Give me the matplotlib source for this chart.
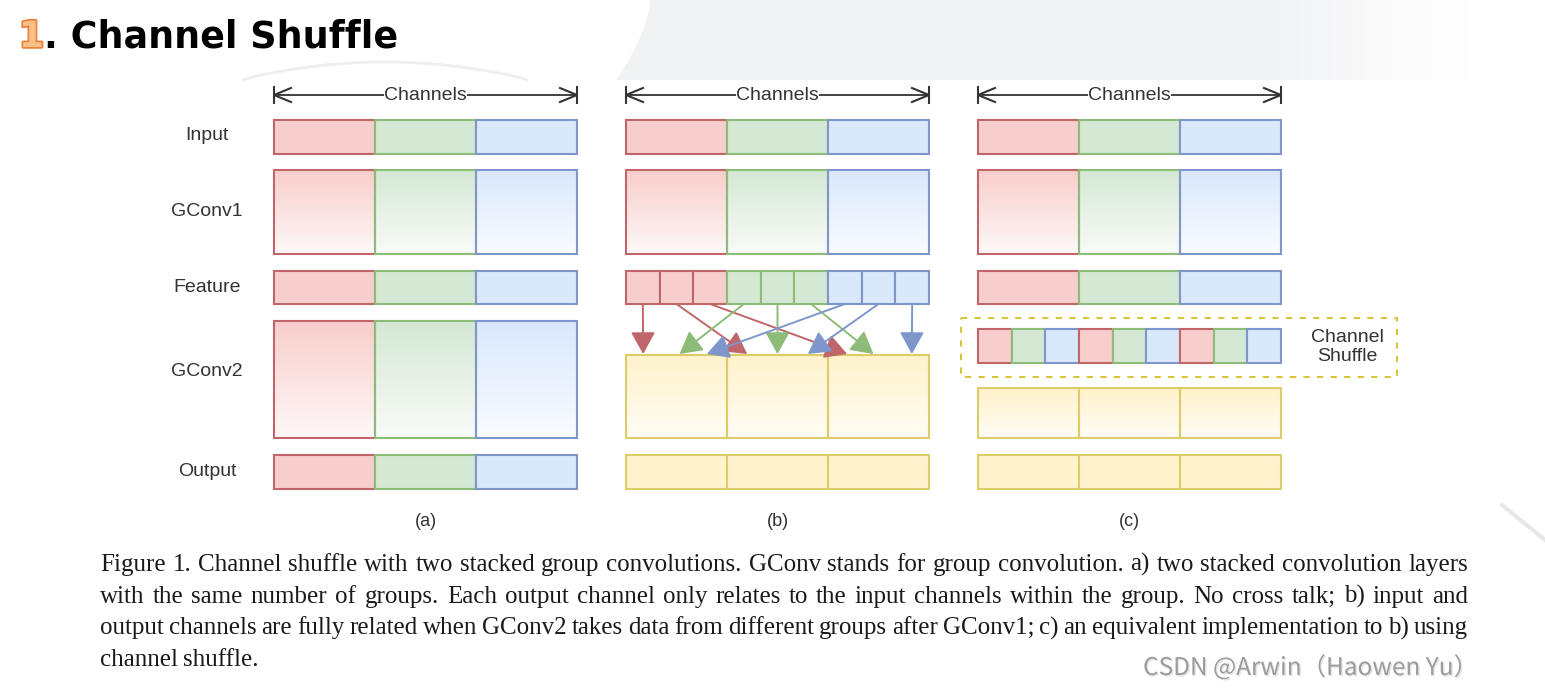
import numpy as np
import matplotlib
matplotlib.use("Agg")
from matplotlib import pyplot as plt
from matplotlib.patches import Rectangle, Polygon, FancyArrowPatch, ArrowStyle
from matplotlib import patheffects as pe
from matplotlib.colors import to_rgb

# ---- content -------------------------------------------------------------
TITLE_NUM = "1"
TITLE_TEXT = ". Channel Shuffle"
LAYERS = ["Input", "GConv1", "Feature", "GConv2", "Output"]
PANEL_LABELS = ["(a)", "(b)", "(c)"]
AXIS_LABEL = "Channels"
SHUFFLE_LABEL = "Channel\nShuffle"

# group colours (fill, edge): red, green, blue
GROUP_FILL = ["#f8cecc", "#d5e8d4", "#dae8fc"]
GROUP_EDGE = ["#c0666a", "#8dbb78", "#7f96cc"]
YELLOW_FILL = "#fff2cc"
YELLOW_EDGE = "#ddcd6a"

N_GROUPS = 3
CELLS_PER_GROUP = 3
# order of colour groups in the shuffled feature of panel (c)
SHUFFLE_ORDER = [0, 1, 2, 0, 1, 2, 0, 1, 2]
# panel (b): each feature cell i goes to output group i % 3, at a relative slot in that group
ARROW_TARGET_GROUP = [0, 1, 2, 0, 1, 2, 0, 1, 2]
ARROW_TARGET_SLOT = [0.17, 0.20, 0.19, 0.53, 0.50, 0.45, 0.80, 0.80, 0.83]

CAPTION = [
    "Figure 1. Channel shuffle with two stacked group convolutions. GConv stands for group convolution. a) two stacked convolution layers",
    "with the same number of groups. Each output channel only relates to the input channels within the group. No cross talk; b) input and",
    "output channels are fully related when GConv2 takes data from different groups after GConv1; c) an equivalent implementation to b) using",
    "channel shuffle.",
]
WATERMARK = "CSDN @Arwin（Haowen Yu）"

# ---- layout (pixels) -----------------------------------------------------
W, H = 1545, 689
PANEL_X = [274, 626, 978]
PANEL_W = 303
ROW_Y = {"Input": (120, 154), "GConv1": (170, 254), "Feature": (271, 304),
         "GConv2": (321, 438), "Output": (455, 489)}
ROW_LABEL_Y = [136, 212, 287, 372, 471]
ROW_LABEL_X = 207
B_GCONV2 = (355, 438)
C_SHUFFLE = (329, 363)
C_GCONV2 = (388, 438)
ARROW_Y = 95
DARK = "#333333"

fig = plt.figure(figsize=(W / 100, H / 100), dpi=100)
ax = fig.add_axes([0, 0, 1, 1])
ax.set_xlim(0, W)
ax.set_ylim(H, 0)
ax.axis("off")


def blend(c, t):
    r = np.array(to_rgb(c))
    return r + (1 - r) * t


def grad_block(x0, x1, y0, y1, fill, edge, fade=0.85):
    t = np.linspace(0, fade, 64)
    rgb = np.array([blend(fill, v) for v in t])[:, None, :]
    ax.imshow(rgb, extent=(x0, x1, y1, y0), origin="upper", aspect="auto",
              interpolation="bilinear", zorder=2)
    ax.add_patch(Rectangle((x0, y0), x1 - x0, y1 - y0, fill=False,
                           edgecolor=edge, lw=1.5, zorder=3))


def solid_block(x0, x1, y0, y1, fill, edge):
    ax.add_patch(Rectangle((x0, y0), x1 - x0, y1 - y0, facecolor=fill,
                           edgecolor=edge, lw=1.5, zorder=3))


# ---- slide background ----------------------------------------------------
bg = np.ones((2, 200, 4))
bg[..., :3] = to_rgb("#f1f2f4")
bg[..., 3] = np.clip((1470 - np.linspace(600, 1545, 200)) / 220, 0, 1)[None, :]
im = ax.imshow(bg, extent=(600, 1545, 80, 0), origin="upper", aspect="auto", zorder=0)
yy = np.linspace(0, 80, 30)
left = 650 - 34 * (yy / 80) ** 1.6
clip = Polygon(np.vstack([np.column_stack([left, yy]), [[1545, 80], [1545, 0]]]),
               closed=True, transform=ax.transData, facecolor="none", edgecolor="none")
ax.add_patch(clip)
im.set_clip_path(clip)
arc_x = np.linspace(243, 527, 60)
arc_y = 80 - 18 * np.sin(np.pi * (arc_x - 243) / 284) ** 0.8
ax.plot(arc_x, arc_y, color="#eeeeee", lw=2, zorder=0)
ax.plot([1502, 1545], [505, 540], color="#e8e8e8", lw=3, zorder=0)

# ---- title ---------------------------------------------------------------
ax.text(19, 47, TITLE_NUM, fontsize=26, fontweight="bold", color="#f9c08a",
        va="baseline", ha="left",
        path_effects=[pe.withStroke(linewidth=2.5, foreground="#e8813a")])
ax.text(44, 47, TITLE_TEXT, fontsize=26.3, fontweight="bold", color="black",
        va="baseline", ha="left")

# ---- row labels ----------------------------------------------------------
for name, y in zip(LAYERS, ROW_LABEL_Y):
    ax.text(ROW_LABEL_X, y, name, fontsize=14, color=DARK, ha="center", va="center",
            family="Liberation Sans")

gw = PANEL_W / N_GROUPS
cw = PANEL_W / (N_GROUPS * CELLS_PER_GROUP)

for p, px in enumerate(PANEL_X):
    # channels dimension arrow
    x0, x1 = px, px + PANEL_W
    ax.plot([x0, x1], [ARROW_Y, ARROW_Y], color=DARK, lw=1.3, zorder=2)
    for xe, s in ((x0, 1), (x1, -1)):
        ax.plot([xe, xe], [ARROW_Y - 8, ARROW_Y + 8], color=DARK, lw=1.5, zorder=2)
        ax.plot([xe + s * 17, xe, xe + s * 17], [ARROW_Y - 7, ARROW_Y, ARROW_Y + 7],
                color=DARK, lw=1.5, zorder=2)
    ax.text(px + PANEL_W / 2, ARROW_Y, AXIS_LABEL, fontsize=14, color=DARK,
            ha="center", va="center", family="Liberation Sans", zorder=4,
            bbox=dict(facecolor="white", edgecolor="none", pad=0.3))
    ax.text(px + PANEL_W / 2, 521, PANEL_LABELS[p], fontsize=13, color=DARK,
            ha="center", va="center", family="Liberation Sans")

    for g in range(N_GROUPS):
        gx0, gx1 = px + g * gw, px + (g + 1) * gw
        y0, y1 = ROW_Y["Input"]
        solid_block(gx0, gx1, y0, y1, GROUP_FILL[g], GROUP_EDGE[g])
        y0, y1 = ROW_Y["GConv1"]
        grad_block(gx0, gx1, y0, y1, GROUP_FILL[g], GROUP_EDGE[g])
        if p != 1:
            y0, y1 = ROW_Y["Feature"]
            solid_block(gx0, gx1, y0, y1, GROUP_FILL[g], GROUP_EDGE[g])
        if p == 0:
            y0, y1 = ROW_Y["GConv2"]
            grad_block(gx0, gx1, y0, y1, GROUP_FILL[g], GROUP_EDGE[g])
            y0, y1 = ROW_Y["Output"]
            solid_block(gx0, gx1, y0, y1, GROUP_FILL[g], GROUP_EDGE[g])
        else:
            y0, y1 = B_GCONV2 if p == 1 else C_GCONV2
            grad_block(gx0, gx1, y0, y1, YELLOW_FILL, YELLOW_EDGE, fade=0.8)
            y0, y1 = ROW_Y["Output"]
            solid_block(gx0, gx1, y0, y1, YELLOW_FILL, YELLOW_EDGE)

# panel (b): split feature cells and cross-group arrows
px = PANEL_X[1]
fy0, fy1 = ROW_Y["Feature"]
for i in range(N_GROUPS * CELLS_PER_GROUP):
    g = i // CELLS_PER_GROUP
    solid_block(px + i * cw, px + (i + 1) * cw, fy0, fy1, GROUP_FILL[g], GROUP_EDGE[g])
for i in range(N_GROUPS * CELLS_PER_GROUP):
    g = i // CELLS_PER_GROUP
    sx = px + (i + 0.5) * cw
    tx = px + (ARROW_TARGET_GROUP[i] + ARROW_TARGET_SLOT[i]) * gw
    ax.add_patch(FancyArrowPatch((sx, fy1), (tx, B_GCONV2[0] - 1),
                                 arrowstyle=ArrowStyle("-|>", head_length=0.9, head_width=0.5),
                                 mutation_scale=15, color=GROUP_EDGE[g], lw=1.4,
                                 shrinkA=0, shrinkB=0, zorder=4))

# panel (c): shuffled channels inside dashed box
px = PANEL_X[2]
for i, g in enumerate(SHUFFLE_ORDER):
    solid_block(px + i * cw, px + (i + 1) * cw, C_SHUFFLE[0], C_SHUFFLE[1],
                GROUP_FILL[g], GROUP_EDGE[g])
ax.add_patch(Rectangle((961, 318), 436, 59, fill=False, edgecolor="#d9c53a",
                       lw=1.5, linestyle=(0, (3, 3.5)), zorder=3))
ax.text(1347, 347, SHUFFLE_LABEL, fontsize=14, color=DARK, ha="center", va="center",
        family="Liberation Sans", linespacing=1.2)

# ---- caption (justified) -------------------------------------------------
renderer = fig.canvas.get_renderer()
CAP_X0, CAP_X1 = 100, 1468
for k, line in enumerate(CAPTION):
    yb = 571 + k * 31.6
    words = line.split()
    arts = [ax.text(0, yb, w, fontsize=18, family="Liberation Serif", color="#1a1a1a",
                    ha="left", va="baseline") for w in words]
    widths = [a.get_window_extent(renderer).width for a in arts]
    if k < len(CAPTION) - 1:
        gap = (CAP_X1 - CAP_X0 - sum(widths)) / (len(words) - 1)
    else:
        gap = 5.5
    x = CAP_X0
    for a, wdt in zip(arts, widths):
        a.set_x(x)
        x += wdt + gap

# ---- watermark -----------------------------------------------------------
wm = ax.text(1143, 668, WATERMARK, fontsize=16, color="#9c9c9c", ha="left", va="center",
             family=["Noto Sans CJK SC", "DejaVu Sans"],
             path_effects=[pe.withSimplePatchShadow(offset=(1, -1), shadow_rgbFace="#e0e0e0", alpha=0.8)])
ww = wm.get_window_extent(renderer).width
wm.set_fontsize(16 * 335 / ww)

ax.set_xlim(0, W)
ax.set_ylim(H, 0)
fig.savefig("out.png", dpi=100, facecolor="white")
